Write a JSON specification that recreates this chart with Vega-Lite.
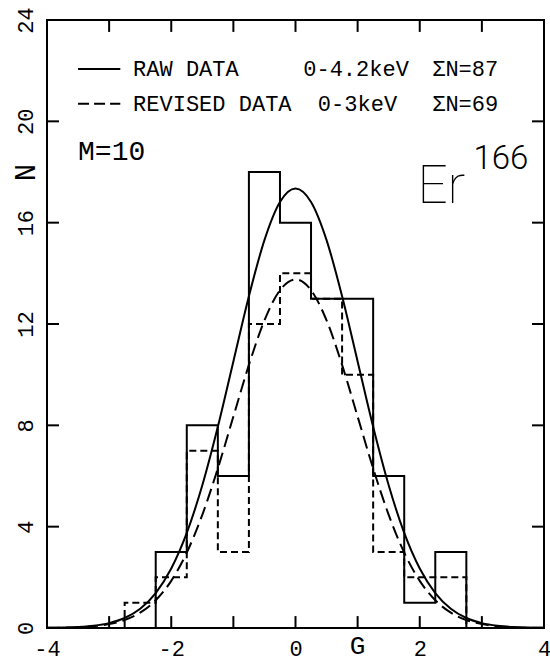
{
  "$schema": "https://vega.github.io/schema/vega-lite/v6.json",
  "width": 497,
  "height": 608,
  "autosize": {"type": "none"},
  "padding": {"left": 47, "top": 20, "right": 6, "bottom": 34},
  "background": "white",
  "config": {
    "view": {"stroke": "black", "strokeWidth": 2},
    "axis": {"domain": false, "grid": false, "ticks": false, "labelColor": "black", "titleColor": "black", "labelFont": "Liberation Mono", "titleFont": "Liberation Mono", "labelFontWeight": "normal", "titleFontWeight": "normal"}
  },
  "datasets": {
    "hist": [
      {"s": "raw", "i": 0, "x": -2.25, "n": 0},
      {"s": "raw", "i": 1, "x": -2.25, "n": 3},
      {"s": "raw", "i": 2, "x": -1.75, "n": 8},
      {"s": "raw", "i": 3, "x": -1.25, "n": 6},
      {"s": "raw", "i": 4, "x": -0.75, "n": 18},
      {"s": "raw", "i": 5, "x": -0.25, "n": 16},
      {"s": "raw", "i": 6, "x": 0.25, "n": 13},
      {"s": "raw", "i": 7, "x": 0.75, "n": 13},
      {"s": "raw", "i": 8, "x": 1.25, "n": 6},
      {"s": "raw", "i": 9, "x": 1.75, "n": 1},
      {"s": "raw", "i": 10, "x": 2.25, "n": 3},
      {"s": "raw", "i": 11, "x": 2.75, "n": 0},
      {"s": "rev", "i": 0, "x": -2.75, "n": 0},
      {"s": "rev", "i": 1, "x": -2.75, "n": 1},
      {"s": "rev", "i": 2, "x": -2.25, "n": 2},
      {"s": "rev", "i": 3, "x": -1.75, "n": 7},
      {"s": "rev", "i": 4, "x": -1.25, "n": 3},
      {"s": "rev", "i": 5, "x": -0.75, "n": 12},
      {"s": "rev", "i": 6, "x": -0.25, "n": 14},
      {"s": "rev", "i": 7, "x": 0.25, "n": 13},
      {"s": "rev", "i": 8, "x": 0.75, "n": 10},
      {"s": "rev", "i": 9, "x": 1.25, "n": 3},
      {"s": "rev", "i": 10, "x": 1.75, "n": 2},
      {"s": "rev", "i": 11, "x": 2.25, "n": 2},
      {"s": "rev", "i": 12, "x": 2.75, "n": 0}
    ],
    "fit": [
      {"s": "raw", "x": -4, "n": 0.006}, {"s": "raw", "x": -3.75, "n": 0.015}, {"s": "raw", "x": -3.5, "n": 0.038}, {"s": "raw", "x": -3.25, "n": 0.088},
      {"s": "raw", "x": -3, "n": 0.193}, {"s": "raw", "x": -2.75, "n": 0.396}, {"s": "raw", "x": -2.5, "n": 0.761}, {"s": "raw", "x": -2.25, "n": 1.381},
      {"s": "raw", "x": -2, "n": 2.348}, {"s": "raw", "x": -1.75, "n": 3.753}, {"s": "raw", "x": -1.5, "n": 5.634}, {"s": "raw", "x": -1.25, "n": 7.943},
      {"s": "raw", "x": -1, "n": 10.523}, {"s": "raw", "x": -0.75, "n": 13.096}, {"s": "raw", "x": -0.5, "n": 15.312}, {"s": "raw", "x": -0.25, "n": 16.816},
      {"s": "raw", "x": 0, "n": 17.35},
      {"s": "raw", "x": 0.25, "n": 16.816}, {"s": "raw", "x": 0.5, "n": 15.312}, {"s": "raw", "x": 0.75, "n": 13.096}, {"s": "raw", "x": 1, "n": 10.523},
      {"s": "raw", "x": 1.25, "n": 7.943}, {"s": "raw", "x": 1.5, "n": 5.634}, {"s": "raw", "x": 1.75, "n": 3.753}, {"s": "raw", "x": 2, "n": 2.348},
      {"s": "raw", "x": 2.25, "n": 1.381}, {"s": "raw", "x": 2.5, "n": 0.761}, {"s": "raw", "x": 2.75, "n": 0.396}, {"s": "raw", "x": 3, "n": 0.193},
      {"s": "raw", "x": 3.25, "n": 0.088}, {"s": "raw", "x": 3.5, "n": 0.038}, {"s": "raw", "x": 3.75, "n": 0.015}, {"s": "raw", "x": 4, "n": 0.006},
      {"s": "rev", "x": -4, "n": 0.005}, {"s": "rev", "x": -3.75, "n": 0.012}, {"s": "rev", "x": -3.5, "n": 0.03}, {"s": "rev", "x": -3.25, "n": 0.07},
      {"s": "rev", "x": -3, "n": 0.153}, {"s": "rev", "x": -2.75, "n": 0.314}, {"s": "rev", "x": -2.5, "n": 0.604}, {"s": "rev", "x": -2.25, "n": 1.095},
      {"s": "rev", "x": -2, "n": 1.862}, {"s": "rev", "x": -1.75, "n": 2.976}, {"s": "rev", "x": -1.5, "n": 4.468}, {"s": "rev", "x": -1.25, "n": 6.3},
      {"s": "rev", "x": -1, "n": 8.346}, {"s": "rev", "x": -0.75, "n": 10.386}, {"s": "rev", "x": -0.5, "n": 12.143}, {"s": "rev", "x": -0.25, "n": 13.336},
      {"s": "rev", "x": 0, "n": 13.76},
      {"s": "rev", "x": 0.25, "n": 13.336}, {"s": "rev", "x": 0.5, "n": 12.143}, {"s": "rev", "x": 0.75, "n": 10.386}, {"s": "rev", "x": 1, "n": 8.346},
      {"s": "rev", "x": 1.25, "n": 6.3}, {"s": "rev", "x": 1.5, "n": 4.468}, {"s": "rev", "x": 1.75, "n": 2.976}, {"s": "rev", "x": 2, "n": 1.862},
      {"s": "rev", "x": 2.25, "n": 1.095}, {"s": "rev", "x": 2.5, "n": 0.604}, {"s": "rev", "x": 2.75, "n": 0.314}, {"s": "rev", "x": 3, "n": 0.153},
      {"s": "rev", "x": 3.25, "n": 0.07}, {"s": "rev", "x": 3.5, "n": 0.03}, {"s": "rev", "x": 3.75, "n": 0.012}, {"s": "rev", "x": 4, "n": 0.005}
    ],
    "xticks": [
      {"v": -3, "a": 0, "b": 0.47}, {"v": -2, "a": 0, "b": 0.47}, {"v": -1, "a": 0, "b": 0.47}, {"v": 0, "a": 0, "b": 0.47},
      {"v": 1, "a": 0, "b": 0.47}, {"v": 2, "a": 0, "b": 0.47}, {"v": 3, "a": 0, "b": 0.47},
      {"v": -3, "a": 24, "b": 23.53}, {"v": -2, "a": 24, "b": 23.53}, {"v": -1, "a": 24, "b": 23.53}, {"v": 0, "a": 24, "b": 23.53},
      {"v": 1, "a": 24, "b": 23.53}, {"v": 2, "a": 24, "b": 23.53}, {"v": 3, "a": 24, "b": 23.53}
    ],
    "yticks": [
      {"v": 4, "a": -4, "b": -3.807}, {"v": 8, "a": -4, "b": -3.807}, {"v": 12, "a": -4, "b": -3.807}, {"v": 16, "a": -4, "b": -3.807}, {"v": 20, "a": -4, "b": -3.807},
      {"v": 4, "a": 4, "b": 3.807}, {"v": 8, "a": 4, "b": 3.807}, {"v": 12, "a": 4, "b": 3.807}, {"v": 16, "a": 4, "b": 3.807}, {"v": 20, "a": 4, "b": 3.807}
    ],
    "keylines": [
      {"s": "raw", "x": -3.5, "x2": -2.82, "y": 22.07},
      {"s": "rev", "x": -3.5, "x2": -2.82, "y": 20.69}
    ],
    "keytext": [
      {"t": "RAW DATA", "x": -2.614, "y": 22.07},
      {"t": "0-4.2keV", "x": 0.125, "y": 22.07},
      {"t": "ΣN=87", "x": 2.2, "y": 22.07},
      {"t": "REVISED DATA", "x": -2.614, "y": 20.69},
      {"t": "0-3keV", "x": 0.36, "y": 20.69},
      {"t": "ΣN=69", "x": 2.2, "y": 20.69}
    ]
  },
  "layer": [
    {
      "data": {"name": "hist"},
      "transform": [{"filter": "datum.s === 'raw'"}],
      "mark": {"type": "line", "interpolate": "step-after", "color": "black", "strokeWidth": 2},
      "encoding": {
        "x": {"field": "x", "type": "quantitative", "scale": {"domain": [-4, 4], "nice": false, "zero": false},
          "axis": {"orient": "bottom", "values": [-4, -2, 0, 2, 4], "labelPadding": 10, "labelFontSize": 22,
            "labelExpr": "datum.value < 0 ? '-' + abs(datum.value) : '' + datum.value",
            "labelFlush": false, "labelOverlap": false, "labelBaseline": "top",
            "title": "G", "titleX": 310, "titleY": 17, "titleFontSize": 26, "titleBaseline": "middle", "titleAlign": "center"}},
        "y": {"field": "n", "type": "quantitative", "scale": {"domain": [0, 24], "nice": false},
          "axis": {"orient": "left", "values": [0, 4, 8, 12, 16, 20, 24], "labelPadding": 10, "labelFontSize": 22,
            "labelAngle": -90, "labelAlign": "center", "labelBaseline": "bottom", "labelFlush": false, "labelOverlap": false,
            "title": "N", "titleAngle": -90, "titleX": -22, "titleY": 152, "titleFontSize": 29, "titleBaseline": "middle", "titleAlign": "center"}},
        "order": {"field": "i", "type": "quantitative"}
      }
    },
    {
      "data": {"name": "hist"},
      "transform": [{"filter": "datum.s === 'rev'"}],
      "mark": {"type": "line", "interpolate": "step-after", "color": "black", "strokeWidth": 2, "strokeDash": [7, 4]},
      "encoding": {
        "x": {"field": "x", "type": "quantitative"},
        "y": {"field": "n", "type": "quantitative"},
        "order": {"field": "i", "type": "quantitative"}
      }
    },
    {
      "data": {"name": "fit"},
      "transform": [{"filter": "datum.s === 'raw'"}],
      "mark": {"type": "line", "interpolate": "monotone", "color": "black", "strokeWidth": 2},
      "encoding": {
        "x": {"field": "x", "type": "quantitative"},
        "y": {"field": "n", "type": "quantitative"}
      }
    },
    {
      "data": {"name": "fit"},
      "transform": [{"filter": "datum.s === 'rev'"}],
      "mark": {"type": "line", "interpolate": "monotone", "color": "black", "strokeWidth": 2, "strokeDash": [13, 6]},
      "encoding": {
        "x": {"field": "x", "type": "quantitative"},
        "y": {"field": "n", "type": "quantitative"}
      }
    },
    {
      "data": {"name": "xticks"},
      "mark": {"type": "rule", "color": "black", "strokeWidth": 2},
      "encoding": {
        "x": {"field": "v", "type": "quantitative"},
        "y": {"field": "a", "type": "quantitative"},
        "y2": {"field": "b"}
      }
    },
    {
      "data": {"name": "yticks"},
      "mark": {"type": "rule", "color": "black", "strokeWidth": 2},
      "encoding": {
        "y": {"field": "v", "type": "quantitative"},
        "x": {"field": "a", "type": "quantitative"},
        "x2": {"field": "b"}
      }
    },
    {
      "data": {"name": "keylines"},
      "mark": {"type": "rule", "color": "black", "strokeWidth": 2},
      "encoding": {
        "x": {"field": "x", "type": "quantitative"},
        "x2": {"field": "x2"},
        "y": {"field": "y", "type": "quantitative"},
        "strokeDash": {"field": "s", "type": "nominal", "scale": {"domain": ["raw", "rev"], "range": [[1, 0], [11, 5]]}, "legend": null}
      }
    },
    {
      "data": {"name": "keytext"},
      "mark": {"type": "text", "font": "Liberation Mono", "fontSize": 22, "align": "left", "baseline": "middle", "color": "black"},
      "encoding": {
        "x": {"field": "x", "type": "quantitative"},
        "y": {"field": "y", "type": "quantitative"},
        "text": {"field": "t"}
      }
    },
    {
      "data": {"values": [{"t": "M=10", "x": -3.5, "y": 18.8}]},
      "mark": {"type": "text", "font": "Liberation Mono", "fontSize": 28, "align": "left", "baseline": "middle", "color": "black"},
      "encoding": {
        "x": {"field": "x", "type": "quantitative"},
        "y": {"field": "y", "type": "quantitative"},
        "text": {"field": "t"}
      }
    },
    {
      "data": {"values": [{"t": "Er", "x": 1.962, "y": 17.4}]},
      "mark": {"type": "text", "font": "Roboto", "fontWeight": 100, "fontSize": 53, "align": "left", "baseline": "middle", "color": "black"},
      "encoding": {
        "x": {"field": "x", "type": "quantitative"},
        "y": {"field": "y", "type": "quantitative"},
        "text": {"field": "t"}
      }
    },
    {
      "data": {"values": [{"t": "166", "x": 2.864, "y": 18.5}]},
      "mark": {"type": "text", "font": "Roboto", "fontWeight": 300, "fontSize": 33, "align": "left", "baseline": "middle", "color": "black"},
      "encoding": {
        "x": {"field": "x", "type": "quantitative"},
        "y": {"field": "y", "type": "quantitative"},
        "text": {"field": "t"}
      }
    }
  ]
}
